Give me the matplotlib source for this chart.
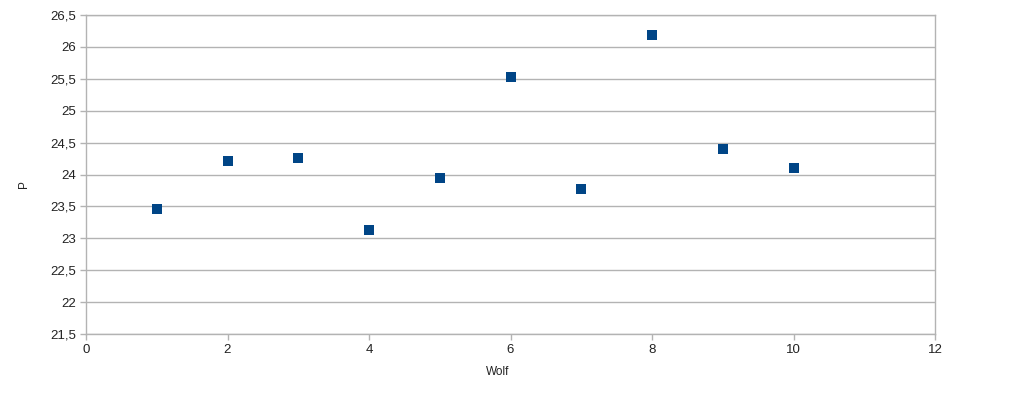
import matplotlib.pyplot as plt

# values
wolf = [1, 2, 3, 4, 5, 6, 7, 8, 9, 10]
p = [23.46, 24.21, 24.26, 23.13, 23.94, 25.53, 23.77, 26.19, 24.40, 24.10]

x_ticks = [0, 2, 4, 6, 8, 10, 12]
y_ticks = [21.5, 22, 22.5, 23, 23.5, 24, 24.5, 25, 25.5, 26, 26.5]

plt.rcParams["font.family"] = ["Liberation Sans", "DejaVu Sans"]
grid_col = "#b3b3b3"

fig = plt.figure(figsize=(10.24, 3.98), dpi=100)
ax = fig.add_axes([86 / 1024, 64 / 398, 849 / 1024, 319 / 398])

ax.scatter(wolf, p, marker="s", s=60, color="#004586", linewidths=0, zorder=3)

ax.set_xlim(0, 12)
ax.set_ylim(21.5, 26.5)
ax.set_xticks(x_ticks)
ax.set_yticks(y_ticks)
ax.set_yticklabels([f"{v:g}".replace(".", ",") for v in y_ticks])

ax.grid(axis="y", color=grid_col, linewidth=1)
ax.set_axisbelow(True)
for s in ax.spines.values():
    s.set_color(grid_col)
    s.set_linewidth(1)
ax.tick_params(colors=grid_col, labelcolor="#222222", labelsize=9.5,
               length=4, width=1, pad=3)

ax.set_xlabel("Wolf", fontsize=8.5, color="#222222")
ax.set_ylabel("P", fontsize=8.5, color="#222222")
ax.xaxis.set_label_coords(0.485, -0.10)
ax.yaxis.set_label_coords(-0.066, 0.47)

fig.savefig("out.png", dpi=100)
